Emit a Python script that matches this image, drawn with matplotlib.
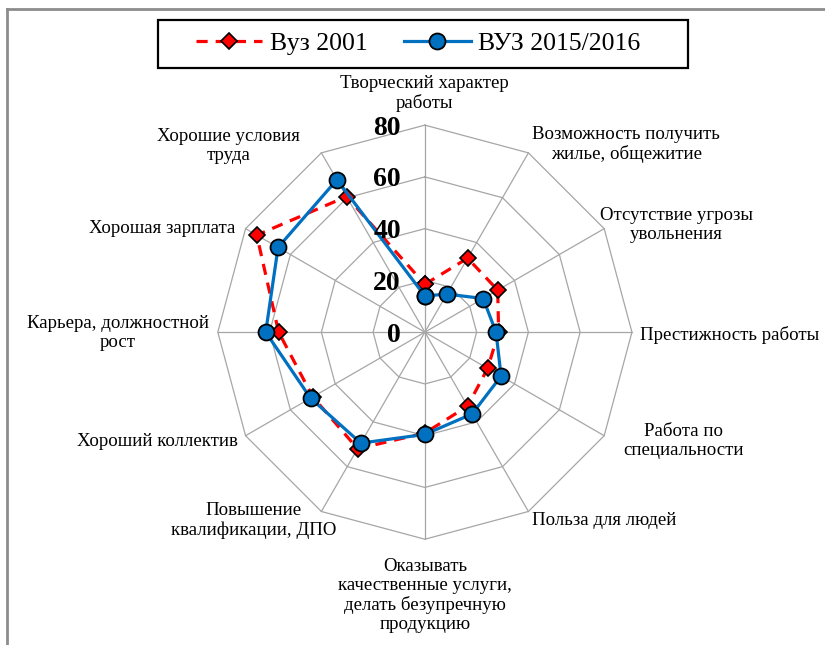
import numpy as np
import matplotlib
matplotlib.use("Agg")
import matplotlib.pyplot as plt
from matplotlib.lines import Line2D
from matplotlib.patches import Rectangle

plt.rcParams['font.family'] = ['Liberation Serif', 'DejaVu Serif']

categories = [
    "Творческий характер\nработы",
    "Возможность получить\nжилье, общежитие",
    "Отсутствие угрозы\nувольнения",
    "Престижность работы",
    "Работа по\nспециальности",
    "Польза для людей",
    "Оказывать\nкачественные услуги,\nделать безупречную\nпродукцию",
    "Повышение\nквалификации, ДПО",
    "Хороший коллектив",
    "Карьера, должностной\nрост",
    "Хорошая зарплата",
    "Хорошие условия\nтруда",
]
vuz_2001 = [18.5, 33, 32.5, 28.5, 28, 33, 39, 52, 50, 56.5, 75, 60.5]
vuz_2015 = [14, 17, 26, 27.5, 34, 36.5, 39.5, 49.5, 51, 61.5, 65.5, 68]
r_ticks = [0, 20, 40, 60, 80]
series_names = ["Вуз 2001", "ВУЗ 2015/2016"]

# label offsets (pixels) from the outer vertex
label_offsets = [(0, 32), (98, 8), (72, 4), (98, -3), (79, -5), (76, -9),
                 (0, -56), (-68, -9), (-88, -6), (-100, -1), (-83, 0), (-93, 7)]

W, H = 825, 645
fig = plt.figure(figsize=(W / 100, H / 100), dpi=100)
ax = fig.add_axes([0.264, 0.164, 0.502, 0.642], projection='polar')
ax.set_theta_zero_location('N')
ax.set_theta_direction(-1)

n = len(categories)
theta = np.arange(n) * 2 * np.pi / n
ax.set_ylim(0, 80)
ax.set_xticks([])
ax.set_yticks([])
ax.grid(False)
ax.spines['polar'].set_visible(False)
ax.patch.set_visible(False)

grid_color = '#a6a6a6'
tc = np.append(theta, theta[0])
for rv in r_ticks[1:]:
    ax.plot(tc, [rv] * len(tc), color=grid_color, lw=0.9, zorder=1, clip_on=False)
for t in theta:
    ax.plot([t, t], [0, 80], color=grid_color, lw=0.9, zorder=1, clip_on=False)

red_style = dict(color='#ff0000', lw=2.3, ls=(0, (3.5, 2.5)), marker='D',
                 markersize=8.5, markerfacecolor='#ff0000',
                 markeredgecolor='black', markeredgewidth=1.2)
blue_style = dict(color='#0070c0', lw=2.3, marker='o', markersize=11.5,
                  markerfacecolor='#0070c0', markeredgecolor='black',
                  markeredgewidth=1.3)

v1 = np.append(vuz_2001, vuz_2001[0])
v2 = np.append(vuz_2015, vuz_2015[0])
ax.plot(tc, v1, zorder=3, clip_on=False, **red_style)
ax.plot(tc, v2, zorder=4, clip_on=False, **blue_style)

for rv in r_ticks:
    ax.annotate(str(rv), xy=(0, rv), xytext=(-24, -3), textcoords='offset pixels',
                ha='right', va='center', fontsize=20, fontweight='bold', zorder=5)

for t, lab, (dx, dy) in zip(theta, categories, label_offsets):
    ax.annotate(lab, xy=(t, 80), xytext=(dx, dy), textcoords='offset pixels',
                ha='center', va='center', fontsize=13.6, linespacing=1.15,
                annotation_clip=False)

handles = [Line2D([], [], **red_style), Line2D([], [], **blue_style)]
leg = fig.legend(handles, series_names, loc='center',
                 bbox_to_anchor=(418 / W, 1 - 44 / H), ncol=2, frameon=False,
                 fontsize=18.5, handlelength=2.6, columnspacing=1.4,
                 handletextpad=0.3)

fig.add_artist(Rectangle((158 / W, 1 - 68 / H), 530 / W, 48 / H,
                         transform=fig.transFigure, fill=False,
                         edgecolor='black', lw=1.6))

# outer chart border (top and left visible)
fig.add_artist(Line2D([7 / W, 1], [1 - 9 / H, 1 - 9 / H], color='#8c8c8c', lw=2,
                      transform=fig.transFigure))
fig.add_artist(Line2D([7 / W, 7 / W], [0, 1 - 9 / H], color='#8c8c8c', lw=2,
                      transform=fig.transFigure))

fig.savefig('out.png', dpi=100)
